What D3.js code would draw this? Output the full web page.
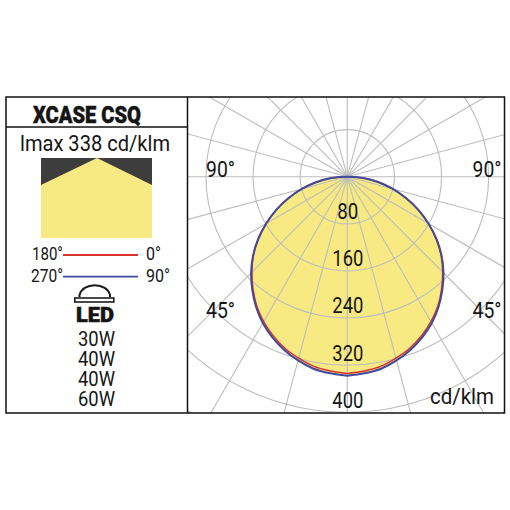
<!DOCTYPE html>
<html><head><meta charset="utf-8">
<script src="https://cdn.jsdelivr.net/npm/d3@7"></script>
<style>html,body{margin:0;padding:0;background:#fff}svg{display:block}</style>
</head><body><svg id="c" width="510" height="510"></svg>
<script>
const angles = [0,5,10,15,20,25,30,35,40,45,50,55,60,65,70,75,80,85,90];
const seriesC0 = [334,331,327,319,310,298,284,268,249,229,208,184,159,133,106,80,54,27,0];
const seriesC90 = [338,335,331,323,313,301,287,270,251,231,209,185,159,133,106,80,54,27,0];
const ringTicks = [80,160,240,320,400,480];
const ringLabels = [80,160,240,320,400];
const ringBaselines = [219.3,266,313.3,361,407.7];
const spokeAngles = d3.range(0,360,15);
const wattages = ["30W","40W","40W","60W"];
const wattBaselines = [346,365.5,386,406];
const svg = d3.select("#c");
const cx=347.3, cy=176.7;
const r = d3.scaleLinear().domain([0,400]).range([0,235.6]);
svg.append("defs").append("clipPath").attr("id","pc").append("rect").attr("x",188).attr("y",97).attr("width",316.5).attr("height",316);
const g = svg.append("g").attr("clip-path","url(#pc)").append("g").attr("transform",`translate(${cx},${cy})`);
const full = a=>[...a.map((d,i)=>[angles[i],d]), ...a.slice(0,-1).reverse().map((d,i)=>[-angles[a.length-2-i],d])];
const radial = d3.lineRadial().angle(d=>(180-d[0])*Math.PI/180).radius(d=>r(d[1])).curve(d3.curveCatmullRom.alpha(0.5));
g.append("path").attr("d",radial(full(seriesC90))+"Z").attr("fill","#f8ea83");
g.selectAll("circle.ring").data(ringTicks).join("circle").attr("class","ring").attr("r",d=>r(d)).attr("fill","none").attr("stroke","#bdbdbd").attr("stroke-width",1.1);
g.selectAll("line.sp").data(spokeAngles).join("line").attr("class","sp")
 .attr("x2",d=>Math.sin(d*Math.PI/180)*r(700)).attr("y2",d=>Math.cos(d*Math.PI/180)*r(700)).attr("stroke","#bdbdbd").attr("stroke-width",1.1);
g.append("path").attr("d",radial(full(seriesC0))+"Z").attr("fill","none").attr("stroke","#d8322f").attr("stroke-width",1.5);
g.append("path").attr("d",radial(full(seriesC90))+"Z").attr("fill","none").attr("stroke","#3f4a9c").attr("stroke-width",2);
const T=(x,y,t,s,w,o={})=>svg.append("text").attr("x",x).attr("y",y).attr("textLength",w).attr("lengthAdjust","spacingAndGlyphs")
  .attr("font-family","Roboto,sans-serif").attr("font-size",s).attr("font-weight",o.w||400).attr("fill","#151515")
  .attr("stroke",o.st?"#151515":"none").attr("stroke-width",o.st||0).text(t);
ringLabels.forEach((v,i)=>{const w=v<100?21:31;T(cx-w/2+0.5,ringBaselines[i],String(v),22.5,w);});
T(206,177.3,"90°",22.5,29);T(472.5,177.3,"90°",22.5,29);T(206,318.3,"45°",22.5,29);T(472.5,318.3,"45°",22.5,29);
T(430,404,"cd/klm",22.5,64);
svg.append("rect").attr("x",6).attr("y",97).attr("width",498.5).attr("height",316).attr("fill","none").attr("stroke","#111").attr("stroke-width",1.5);
svg.append("line").attr("x1",187.5).attr("x2",187.5).attr("y1",97).attr("y2",413).attr("stroke","#111").attr("stroke-width",1.5);
svg.append("line").attr("x1",6).attr("x2",188).attr("y1",127).attr("y2",127).attr("stroke","#111").attr("stroke-width",1.5);
T(33,123,"XCASE CSQ",24,108,{w:900,st:0.5});
T(20,151,"lmax 338 cd/klm",22,150);
svg.append("rect").attr("x",41).attr("y",158).attr("width",111).attr("height",80).attr("fill","#3d3d3d");
svg.append("path").attr("d",d3.line()([[41,185],[97,158],[152,185],[152,238],[41,238]])+"Z").attr("fill","#f8ea83");
T(32,260,"180°",18.5,31);T(146,260,"0°",18.5,15);
T(31,281.7,"270°",18.5,32);T(146,281.7,"90°",18.5,24);
svg.append("line").attr("x1",63).attr("x2",138).attr("y1",255).attr("y2",255).attr("stroke","#d8322f").attr("stroke-width",1.8);
svg.append("line").attr("x1",63).attr("x2",138).attr("y1",276.7).attr("y2",276.7).attr("stroke","#3f4a9c").attr("stroke-width",1.8);
svg.append("path").attr("d","M79.5 297 V295 A15.5 12 0 0 1 110 295 V297").attr("fill","none").attr("stroke","#1c1c1c").attr("stroke-width",2);
svg.append("rect").attr("x",74.8).attr("y",298).attr("width",39).attr("height",4).attr("fill","none").attr("stroke","#1c1c1c").attr("stroke-width",1.6);
T(76,321.7,"LED",21,38,{w:900,st:0.5});
wattages.forEach((w,i)=>T(78,wattBaselines[i],w,20,37));
</script></body></html>
